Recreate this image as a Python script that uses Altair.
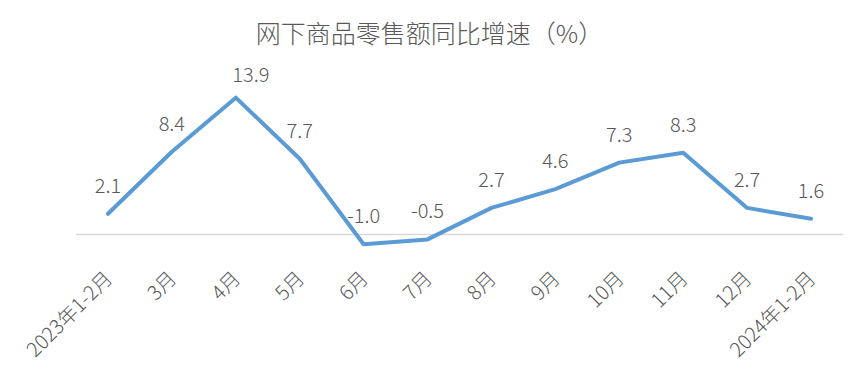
import altair as alt
import pandas as pd

months = ["2023年1-2月", "3月", "4月", "5月", "6月", "7月", "8月", "9月", "10月", "11月", "12月", "2024年1-2月"]
values = [2.1, 8.4, 13.9, 7.7, -1.0, -0.5, 2.7, 4.6, 7.3, 8.3, 2.7, 1.6]
labels = ["2.1", "8.4", "13.9", "7.7", "-1.0", "-0.5", "2.7", "4.6", "7.3", "8.3", "2.7", "1.6"]

df = pd.DataFrame({"month": months, "value": values, "label": labels})

FONT = "Noto Sans CJK SC"
YSCALE = alt.Scale(domain=[-3, 16], nice=False, zero=False)

x = alt.X("month:N", sort=months, title=None,
          axis=alt.Axis(labelAngle=-45, labelFontSize=20, labelColor="#595959", labelFont=FONT,
                        labelFontWeight=300, domain=False, ticks=False, labelPadding=4,
                        labelOffset=-6, grid=False))
y = alt.Y("value:Q", scale=YSCALE, axis=None)

base = alt.Chart(df).encode(x=x, y=y)

zero = alt.Chart(pd.DataFrame({"z": [0]})).mark_rule(color="#D9D9D9", strokeWidth=1.5).encode(
    y=alt.Y("z:Q", scale=YSCALE, axis=None))

line = base.mark_line(color="#5B9BD5", strokeWidth=4, strokeJoin="round", strokeCap="round")

text_main = base.transform_filter(alt.datum.label != "13.9").mark_text(
    dy=-21, baseline="alphabetic", fontSize=20, fontWeight=300, color="#595959", font=FONT
).encode(text="label:N")
text_peak = base.transform_filter(alt.datum.label == "13.9").mark_text(
    dy=-16, dx=15, baseline="alphabetic", fontSize=20, fontWeight=300, color="#595959", font=FONT
).encode(text="label:N")

chart = alt.layer(zero, line, text_main, text_peak).properties(
    width=767, height=187,
    title=alt.TitleParams("网下商品零售额同比增速（%）", fontSize=25, color="#595959", font=FONT,
                          fontWeight=300, anchor="middle", offset=18, dx=-30),
    autosize=alt.AutoSizeParams(type="none"),
    padding={"left": 68, "top": 69, "right": 16, "bottom": 117},
).configure_view(stroke=None)

chart.save("out.html", embed_options={"renderer": "svg", "actions": False})
